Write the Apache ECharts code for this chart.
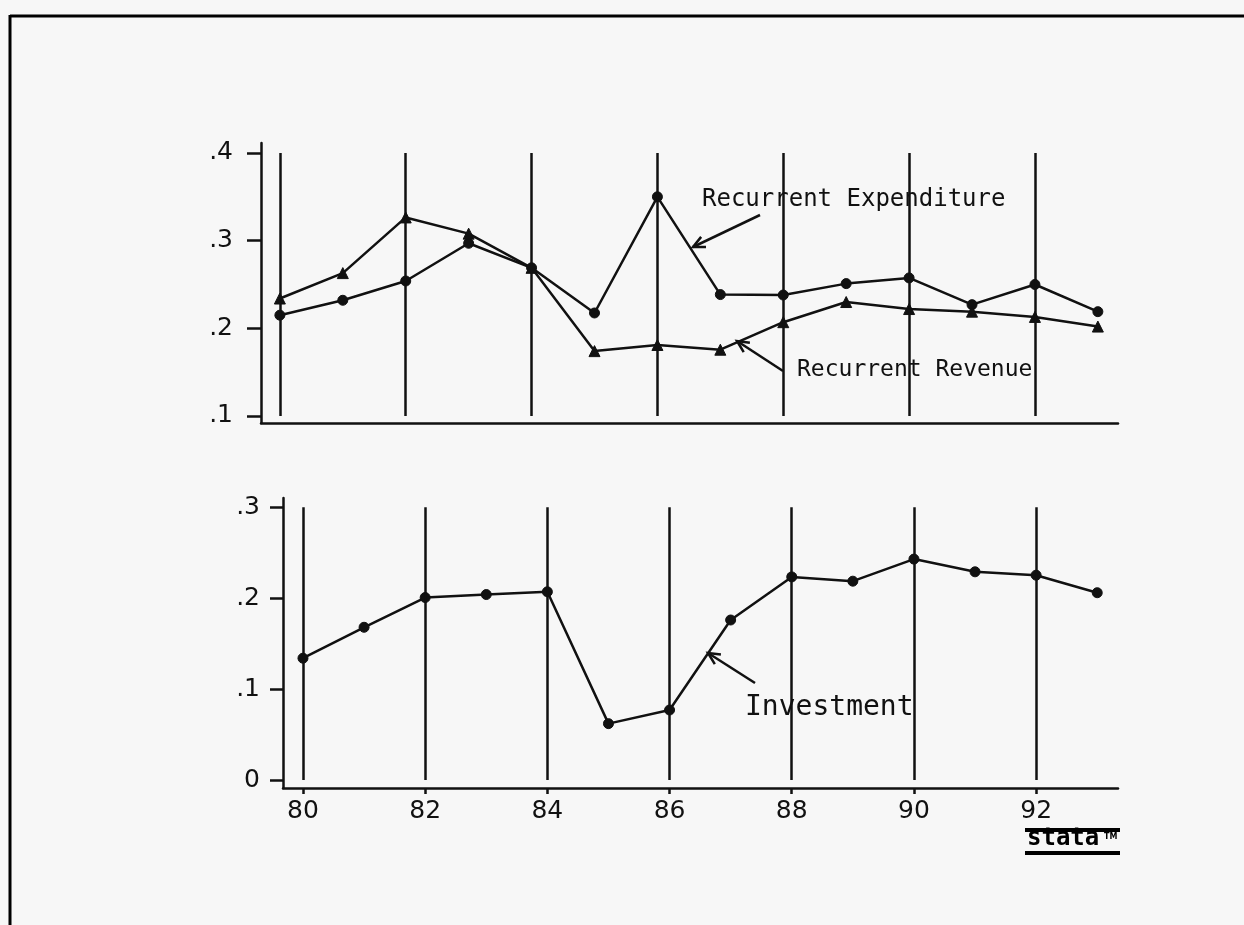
<!DOCTYPE html>
<html>
<head>
<meta charset="utf-8">
<script src="https://cdn.jsdelivr.net/npm/echarts@6/dist/echarts.min.js"></script>
<style>
  html, body { margin: 0; padding: 0; background: #f7f7f7; }
  #chart { width: 1244px; height: 925px; }
</style>
</head>
<body>
<div id="chart"></div>
<script>
// ---- data ----
const years = [80, 81, 82, 83, 84, 85, 86, 87, 88, 89, 90, 91, 92, 93];
const expenditure = [0.215, 0.232, 0.254, 0.297, 0.269, 0.2175, 0.350, 0.2385, 0.238, 0.251, 0.2575, 0.227, 0.250, 0.219];
const revenue = [0.234, 0.263, 0.3265, 0.308, 0.269, 0.174, 0.181, 0.1756, 0.207, 0.230, 0.222, 0.219, 0.213, 0.202];
const investment = [0.134, 0.168, 0.2007, 0.204, 0.207, 0.062, 0.077, 0.176, 0.2234, 0.2187, 0.243, 0.229, 0.2253, 0.206];
const xTickYears = [80, 82, 84, 86, 88, 90, 92];
const topYTicks = [0.1, 0.2, 0.3, 0.4];
const bottomYTicks = [0, 0.1, 0.2, 0.3];
const labelExpenditure = 'Recurrent Expenditure';
const labelRevenue = 'Recurrent Revenue';
const labelInvestment = 'Investment';

// ---- build ----
const pairs = (vals) => years.map((y, i) => [y, vals[i]]);
const fmtY = (v) => (Math.abs(v) < 1e-9 ? '0' : String(+v.toFixed(2)).replace(/^0\./, '.'));
const vLines = (lo, hi) => xTickYears.map(x => [{ coord: [x, lo] }, { coord: [x, hi] }]);

const ink = '#111';
const LW = 2.5;
const axisFont = { color: ink, fontFamily: 'DejaVu Sans', fontSize: 25 };

function arrow(x1, y1, x2, y2) {
  // line from (x1,y1) to tip (x2,y2) with open arrowhead
  const a = Math.atan2(y1 - y2, x1 - x2);
  const L = 13, w = 0.45;
  const p1 = [x2 + L * Math.cos(a + w), y2 + L * Math.sin(a + w)];
  const p2 = [x2 + L * Math.cos(a - w), y2 + L * Math.sin(a - w)];
  return [
    { type: 'line', shape: { x1, y1, x2, y2 }, style: { stroke: ink, lineWidth: LW } },
    { type: 'polyline', shape: { points: [p1, [x2, y2], p2] }, style: { stroke: ink, lineWidth: LW, fill: null } }
  ];
}

const lineSeries = (name, vals, xi, symbol, size) => ({
  name, type: 'line', xAxisIndex: xi, yAxisIndex: xi,
  data: pairs(vals), symbol, symbolSize: size,
  lineStyle: { color: ink, width: LW },
  itemStyle: { color: ink, borderColor: ink, borderWidth: 1 },
  emphasis: { disabled: true }, animation: false, z: 3
});

const vLineMark = (lo, hi) => ({
  silent: true, symbol: ['none', 'none'], label: { show: false },
  lineStyle: { color: ink, width: LW, type: 'solid' },
  emphasis: { disabled: true },
  data: vLines(lo, hi)
});

const chart = echarts.init(document.getElementById('chart'), null, { renderer: 'canvas' });
const option = {
  backgroundColor: '#f7f7f7',
  animation: false,
  grid: [
    { left: 261, right: 126, top: 143, bottom: 502 },
    { left: 283, right: 126, top: 498, bottom: 137 }
  ],
  xAxis: [
    {
      type: 'value', gridIndex: 0, min: 79.7, max: 93.32,
      axisLine: { show: true, onZero: false, lineStyle: { color: ink, width: LW } },
      axisTick: { show: false }, axisLabel: { show: false }, splitLine: { show: false }
    },
    {
      type: 'value', gridIndex: 1, min: 79.673, max: 93.34,
      axisLine: { show: true, onZero: false, lineStyle: { color: ink, width: LW } },
      axisTick: { show: true, length: 6, customValues: xTickYears, lineStyle: { color: ink, width: LW } },
      axisLabel: Object.assign({ customValues: xTickYears, margin: 11, formatter: v => String(Math.round(v)) }, axisFont),
      splitLine: { show: false }
    }
  ],
  yAxis: [
    {
      type: 'value', gridIndex: 0, min: 0.092, max: 0.4114,
      axisLine: { show: true, onZero: false, lineStyle: { color: ink, width: LW } },
      axisTick: { show: true, length: 14, customValues: topYTicks, lineStyle: { color: ink, width: LW } },
      axisLabel: Object.assign({ customValues: topYTicks, margin: 28, formatter: fmtY }, axisFont),
      splitLine: { show: false }
    },
    {
      type: 'value', gridIndex: 1, min: -0.0088, max: 0.3102,
      axisLine: { show: true, onZero: false, lineStyle: { color: ink, width: LW } },
      axisTick: { show: true, length: 13, customValues: bottomYTicks, lineStyle: { color: ink, width: LW } },
      axisLabel: Object.assign({ customValues: bottomYTicks, margin: 23, formatter: fmtY }, axisFont),
      splitLine: { show: false }
    }
  ],
  series: [
    Object.assign(lineSeries(labelExpenditure, expenditure, 0, 'circle', 10), {
      markLine: vLineMark(topYTicks[0], topYTicks[topYTicks.length - 1])
    }),
    lineSeries(labelRevenue, revenue, 0, 'triangle', 11),
    Object.assign(lineSeries(labelInvestment, investment, 1, 'circle', 10), {
      markLine: vLineMark(bottomYTicks[0], bottomYTicks[bottomYTicks.length - 1])
    })
  ],
  graphic: [
    // page frame
    { type: 'line', shape: { x1: 10, y1: 16, x2: 1244, y2: 16 }, style: { stroke: '#000', lineWidth: 3 } },
    { type: 'line', shape: { x1: 10, y1: 15, x2: 10, y2: 925 }, style: { stroke: '#000', lineWidth: 3 } },
    // annotations
    { type: 'text', left: 702, top: 188, style: { text: labelExpenditure, fill: ink, font: '24px "DejaVu Sans Mono"' } },
    ...arrow(760, 215, 693, 247),
    { type: 'text', left: 797, top: 359, style: { text: labelRevenue, fill: ink, font: '23px "DejaVu Sans Mono"' } },
    ...arrow(783, 371, 737, 341),
    { type: 'text', left: 745, top: 694, style: { text: labelInvestment, fill: ink, font: '28px "DejaVu Sans Mono"' } },
    ...arrow(755, 683, 708, 653),
    // Stata logo
    { type: 'rect', shape: { x: 1025, y: 828, width: 95, height: 4 }, style: { fill: '#000' } },
    { type: 'text', left: 1027, top: 827, style: { text: 'stata', fill: '#000', font: 'bold 24px "DejaVu Sans Mono"' } },
    { type: 'text', left: 1104, top: 833, style: { text: 'TM', fill: '#000', font: 'bold 8px "DejaVu Sans"' } },
    { type: 'rect', shape: { x: 1025, y: 851, width: 95, height: 4 }, style: { fill: '#000' } }
  ]
};
chart.setOption(option);
</script>
</body>
</html>
